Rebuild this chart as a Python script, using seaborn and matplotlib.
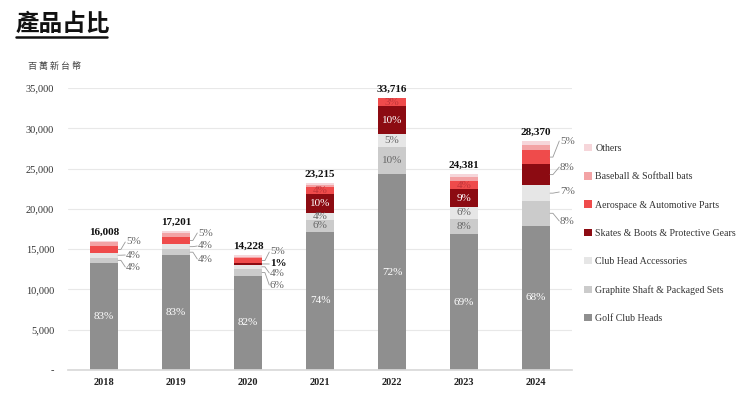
import matplotlib
matplotlib.use("Agg")
import matplotlib.pyplot as plt
from matplotlib.patches import Patch
from matplotlib.lines import Line2D
import seaborn as sns
import pandas as pd
import numpy as np

# ---------------- data (NT$ millions) ----------------
years = ["2018", "2019", "2020", "2021", "2022", "2023", "2024"]
totals = [16008, 17201, 14228, 23215, 33716, 24381, 28370]
series = ["Golf Club Heads", "Graphite Shaft & Packaged Sets", "Club Head Accessories",
          "Skates & Boots & Protective Gears", "Aerospace & Automotive Parts",
          "Baseball & Softball bats", "Others"]
golf_club_heads = [13287, 14277, 11667, 17179, 24276, 16823, 17900]
graphite_shaft = [640, 688, 854, 1393, 3372, 1950, 3100]
club_head_acc = [640, 688, 569, 929, 1686, 1463, 1900]
skates = [0, 0, 142, 2322, 3372, 2194, 2700]
aerospace = [800, 860, 711, 929, 1010, 975, 1650]
baseball = [480, 516, 142, 232, 0, 488, 700]
others = [161, 172, 143, 231, 0, 488, 420]

# share labels (%) as printed on the chart
pct_golf = [83, 83, 82, 74, 72, 69, 68]
pct_graphite = [4, 4, 6, 6, 10, 8, 8]
pct_acc = [4, 4, 4, 4, 5, 6, 7]
pct_skates = [0, 0, 1, 10, 10, 9, 8]
pct_aero = [5, 5, 5, 4, 3, 4, 5]

y_ticks = [0, 5000, 10000, 15000, 20000, 25000, 30000, 35000]
y_ticklabels = ["-", "5,000", "10,000", "15,000", "20,000", "25,000", "30,000", "35,000"]

values = [golf_club_heads, graphite_shaft, club_head_acc, skates, aerospace, baseball, others]
pcts = [pct_golf, pct_graphite, pct_acc, pct_skates, pct_aero]
colors = ["#8f8f8f", "#cbcbcb", "#e6e6e6", "#8c0b12", "#ef4b4b", "#f3a3a5", "#f6d6da"]

# ---------------- figure ----------------
sns.set_theme(style="white")
plt.rcParams["font.family"] = ["Liberation Serif", "Noto Sans CJK TC", "DejaVu Sans"]

W, H = 740, 397
fig = plt.figure(figsize=(W / 100, H / 100), dpi=100)
ax_l, ax_r, ax_b, ax_t = 68, 572, 370, 88
ax = fig.add_axes([ax_l / W, 1 - ax_b / H, (ax_r - ax_l) / W, (ax_b - ax_t) / H])

seg = np.array(values, dtype=float)
cum = np.cumsum(seg, axis=0)
bottoms = cum - seg

# stacked bars via overlapping cumulative bars (top-most first)
for k in range(len(series) - 1, -1, -1):
    df = pd.DataFrame({"year": years, "value": cum[k]})
    sns.barplot(data=df, x="year", y="value", order=years, color=colors[k],
                width=0.39, linewidth=0, saturation=1, ax=ax, zorder=2)

ax.set_xlim(-0.5, 6.5)
ax.set_ylim(0, 35000)
ax.set_yticks(y_ticks)
ax.set_yticklabels(y_ticklabels, fontsize=7.5, color="#333333")
ax.set_xticks(range(len(years)))
ax.set_xticklabels(years, fontsize=7.5, fontweight="bold", color="#222222")
ax.set_xlabel("")
ax.set_ylabel("")
ax.grid(axis="y", color="#e8e8e8", linewidth=0.8, zorder=0)
ax.set_axisbelow(True)
for s in ["top", "right", "left"]:
    ax.spines[s].set_visible(False)
ax.spines["bottom"].set_color("#d9d9d9")
ax.tick_params(axis="both", length=0, pad=6)
ax.tick_params(axis="y", pad=10)

def px2x(px):
    return (px - ax_l) / 72 - 0.5

def px2y(py):
    return (ax_b - py) / (ax_b - ax_t) * 35000

# totals
for i, t in enumerate(totals):
    ax.annotate(f"{t:,}", (i, t), xytext=(0, 3), textcoords="offset points",
                ha="center", va="bottom", fontsize=8, fontweight="bold", color="#111111")

# inside labels: (year idx, series idx, text colour)
inside = []
for i in range(7):
    inside.append((i, 0, "white"))
for i in (3, 4, 5):
    inside += [(i, 1, "#666666"), (i, 2, "#666666"), (i, 3, "white"), (i, 4, "#c0353a")]
for i, k, c in inside:
    ymid = bottoms[k][i] + seg[k][i] / 2
    ax.text(i, ymid, f"{pcts[k][i]}%", ha="center", va="center", fontsize=8,
            color=c, zorder=5)

# outside labels with leader lines: (year idx, series idx, label y px, label x px)
outside = [
    (0, 4, 242, 126), (0, 2, 255, 126), (0, 1, 267, 126),
    (1, 4, 233, 198), (1, 2, 246, 198), (1, 1, 259, 198),
    (2, 4, 252, 270), (2, 3, 264, 270), (2, 2, 273, 270), (2, 1, 285, 270),
    (6, 4, 141, 560), (6, 3, 167, 560), (6, 2, 192, 560), (6, 1, 221, 560),
]
for i, k, ly, lx in outside:
    ymid = bottoms[k][i] + seg[k][i] / 2
    x0 = i + 0.195
    tx = px2x(lx)
    ty = px2y(ly)
    ax.add_line(Line2D([x0, x0 + 0.04, tx - 0.01], [ymid, ymid, ty], color="#999999",
                       linewidth=0.6, clip_on=False, zorder=4))
    bold = (k == 3 and i == 2)
    ax.text(tx, ty, f"{pcts[k][i]}%", ha="left", va="center", fontsize=8,
            color="#111111" if bold else "#666666",
            fontweight="bold" if bold else "normal", clip_on=False)

# legend
handles = [Patch(facecolor=colors[k], edgecolor="none", label=series[k])
           for k in range(len(series) - 1, -1, -1)]
fig.legend(handles=handles, loc="upper left", bbox_to_anchor=(579 / W, 1 - 139 / H),
           frameon=False, fontsize=7.1, labelspacing=1.93, handlelength=0.8,
           handleheight=0.8, handletextpad=0.35, borderpad=0, labelcolor="#333333")

# title and unit
fig.text(16 / W, 1 - 24 / H, "產品占比", fontsize=17, fontweight="bold",
         family=["Noto Sans CJK TC"], va="center", ha="left", color="#111111")
fig.add_artist(Line2D([16 / W, 107 / W], [1 - 37 / H, 1 - 37 / H], color="#111111",
                      linewidth=1.8))
fig.text(28 / W, 1 - 66 / H, "百 萬 新 台 幣", fontsize=6.5, family=["Noto Sans CJK TC"],
         va="center", ha="left", color="#444444")

fig.savefig("out.png", dpi=100)
